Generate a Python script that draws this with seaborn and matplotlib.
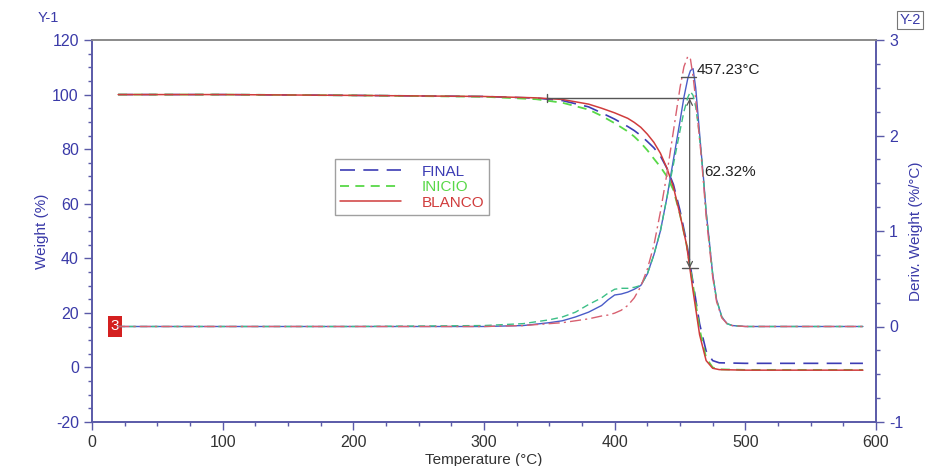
import numpy as np
import pandas as pd
import matplotlib
matplotlib.use("Agg")
import matplotlib.pyplot as plt
from matplotlib.ticker import MultipleLocator
import seaborn as sns

sns.set_theme(style="white")
plt.rcParams['font.family'] = ['Liberation Sans', 'DejaVu Sans']
plt.rcParams['axes.unicode_minus'] = False

# ---------------- data ----------------
series = ["FINAL", "INICIO", "BLANCO"]

temp_w = [20, 100, 200, 300, 340, 360, 380, 390, 400, 410, 415, 420, 425, 430,
          435, 440, 445, 450, 455, 460, 465, 470, 475, 480, 500, 550, 590]
weight_final = [100, 100, 99.7, 99.3, 98.7, 97.8, 95.5, 93.3, 91.0, 88.3, 86.8, 85.0,
                82.8, 80.5, 77.5, 73.0, 67.0, 57.5, 46.0, 31.0, 16.0, 6.0, 2.5, 1.7,
                1.5, 1.5, 1.5]
weight_inicio = [100, 100, 99.7, 99.2, 98.3, 97.0, 94.5, 92.2, 89.5, 86.5, 84.6, 82.3,
                 79.6, 76.5, 73.5, 70.0, 65.0, 56.0, 45.0, 30.0, 14.0, 3.5, 0.0, -0.7,
                 -0.9, -0.9, -0.9]
weight_blanco = [100, 100, 99.7, 99.3, 98.8, 98.2, 96.5, 95.0, 93.3, 91.3, 89.8, 88.0,
                 85.5, 82.5, 78.5, 73.0, 66.0, 56.0, 45.0, 28.0, 12.0, 2.5, -0.3, -0.8,
                 -1.0, -1.0, -1.0]

temp_d = [20, 100, 200, 300, 330, 350, 360, 370, 380, 390, 395, 400, 405, 410, 415,
          420, 425, 430, 435, 440, 445, 450, 453, 456, 458, 460, 462, 464, 466, 468,
          470, 472, 475, 478, 482, 486, 490, 500, 550, 590]
deriv_final = [0, 0, 0, 0.0, 0.01, 0.04, 0.06, 0.10, 0.15, 0.22, 0.28, 0.33, 0.34, 0.36,
               0.39, 0.43, 0.55, 0.75, 1.00, 1.35, 1.75, 2.15, 2.40, 2.60, 2.68, 2.70,
               2.50, 2.18, 1.86, 1.55, 1.20, 0.95, 0.55, 0.28, 0.10, 0.03, 0.01, 0, 0, 0]
deriv_inicio = [0, 0, 0, 0.01, 0.03, 0.07, 0.10, 0.15, 0.23, 0.30, 0.35, 0.39, 0.40, 0.40,
                0.41, 0.43, 0.55, 0.75, 1.00, 1.35, 1.70, 2.05, 2.25, 2.40, 2.46, 2.42,
                2.30, 2.10, 1.84, 1.54, 1.20, 0.95, 0.55, 0.28, 0.10, 0.03, 0.01, 0, 0, 0]
deriv_blanco = [0, 0, 0, 0.0, 0.01, 0.03, 0.04, 0.06, 0.08, 0.11, 0.12, 0.14, 0.17, 0.22,
                0.30, 0.42, 0.60, 0.85, 1.20, 1.60, 2.05, 2.50, 2.72, 2.83, 2.80, 2.62,
                2.38, 2.10, 1.82, 1.50, 1.15, 0.90, 0.52, 0.26, 0.09, 0.03, 0.01, 0, 0, 0]

xticks = [0, 100, 200, 300, 400, 500, 600]
y1ticks = [-20, 0, 20, 40, 60, 80, 100, 120]
y2ticks = [-1, 0, 1, 2, 3]

# ---------------- styling ----------------
c_final = "#3c3cb4"
c_inicio = "#58d848"
c_blanco = "#d03c3c"
c_final_d = "#4a5cc8"
c_inicio_d = "#3cbf86"
c_blanco_d = "#d86070"
axis_blue = "#5a5aa8"
label_blue = "#3a3aa8"

fig = plt.figure(figsize=(9.42, 4.66), dpi=100)
ax = fig.add_axes([92/942, 1-422/466, 784/942, 382/466])
ax2 = ax.twinx()

wdf = pd.DataFrame({"T": temp_w, "FINAL": weight_final, "INICIO": weight_inicio,
                    "BLANCO": weight_blanco})
ddf = pd.DataFrame({"T": temp_d, "FINAL": deriv_final, "INICIO": deriv_inicio,
                    "BLANCO": deriv_blanco})

# weight curves (left axis)
sns.lineplot(data=wdf, x="T", y="FINAL", ax=ax, color=c_final, lw=1.2,
             linestyle=(0, (9, 5)), sort=False, estimator=None, label="FINAL")
sns.lineplot(data=wdf, x="T", y="INICIO", ax=ax, color=c_inicio, lw=1.3,
             linestyle=(0, (5, 3.5)), sort=False, estimator=None, label="INICIO")
sns.lineplot(data=wdf, x="T", y="BLANCO", ax=ax, color=c_blanco, lw=1.1,
             linestyle="-", sort=False, estimator=None, label="BLANCO")

# derivative curves (right axis)
sns.lineplot(data=ddf, x="T", y="FINAL", ax=ax2, color=c_final_d, lw=1.0,
             linestyle="-", sort=False, estimator=None, legend=False)
sns.lineplot(data=ddf, x="T", y="INICIO", ax=ax2, color=c_inicio_d, lw=1.0,
             linestyle=(0, (5, 3)), sort=False, estimator=None, legend=False)
sns.lineplot(data=ddf, x="T", y="BLANCO", ax=ax2, color=c_blanco_d, lw=1.0,
             linestyle=(0, (8, 3, 1.5, 3)), sort=False, estimator=None, legend=False)

# axes limits / ticks
ax.set_xlim(0, 600)
ax.set_ylim(-20, 120)
ax2.set_ylim(-1, 3)
ax.set_xticks(xticks)
ax.set_yticks(y1ticks)
ax2.set_yticks(y2ticks)
ax.xaxis.set_minor_locator(MultipleLocator(25))
ax.yaxis.set_minor_locator(MultipleLocator(5))
ax2.yaxis.set_minor_locator(MultipleLocator(0.25))

ax.tick_params(axis="x", which="major", direction="out", length=6, width=1,
               color=axis_blue, labelsize=11.5, labelcolor="#333333", bottom=True)
ax.tick_params(axis="x", which="minor", direction="out", length=3, width=1,
               color=axis_blue, bottom=True)
ax.tick_params(axis="y", which="major", direction="out", length=6, width=1,
               color=axis_blue, labelsize=11.5, labelcolor=label_blue, left=True)
ax.tick_params(axis="y", which="minor", direction="out", length=3, width=1,
               color=axis_blue, left=True)
ax2.tick_params(axis="y", which="major", direction="out", length=6, width=1,
                color=axis_blue, labelsize=11.5, labelcolor=label_blue, right=True)
ax2.tick_params(axis="y", which="minor", direction="out", length=3, width=1,
                color=axis_blue, right=True)

for a in (ax, ax2):
    for s in a.spines.values():
        s.set_linewidth(1.2)
    a.spines["left"].set_color(axis_blue)
    a.spines["right"].set_color(axis_blue)
    a.spines["bottom"].set_color(axis_blue)
    a.spines["top"].set_color("#8a8a8a")
    a.grid(False)

ax.set_xlabel("Temperature (°C)", fontsize=11, color="#333333", labelpad=2)
ax.set_ylabel("Weight (%)", fontsize=11, color=label_blue, labelpad=2)
ax2.set_ylabel("Deriv. Weight (%/°C)", fontsize=11, color=label_blue, labelpad=4)

fig.text(48/942, 1-18/466, "Y-1", fontsize=10.5, color=label_blue, ha="center", va="center")
fig.text(910/942, 1-20/466, "Y-2", fontsize=10.5, color=label_blue, ha="center", va="center",
         bbox=dict(facecolor="white", edgecolor="#777777", pad=1.5, lw=0.8))

# legend
leg = ax.legend(loc="upper left", bbox_to_anchor=(0.31, 0.688), frameon=True,
                fancybox=False, edgecolor="#888888", fontsize=11, handlelength=4.0,
                handletextpad=1.3, borderpad=0.35, labelspacing=0.1, borderaxespad=0)
leg.get_frame().set_linewidth(1.0)
for txt, col in zip(leg.get_texts(), [c_final, c_inicio, c_blanco]):
    txt.set_color(col)

# annotations
ann_col = "#555555"
ax.plot([348, 460], [98.6, 98.6], color=ann_col, lw=1.0)
ax.plot([348, 348], [97.2, 100.2], color=ann_col, lw=1.0)
ax.annotate("", xy=(457.4, 36.3), xytext=(457.4, 98.6),
            arrowprops=dict(arrowstyle="<->", color=ann_col, lw=0.9,
                            shrinkA=0, shrinkB=0, mutation_scale=10))
ax.plot([451.5, 463.5], [36.3, 36.3], color=ann_col, lw=1.0)
ax.text(468.5, 71.6, "62.32%", fontsize=11, color="#222222", ha="left", va="center")
ax2.plot([450.7, 462.2], [2.61, 2.61], color=ann_col, lw=1.0)
ax2.text(463, 2.69, "457.23°C", fontsize=11, color="#222222", ha="left", va="center")

ax.text(17.6, 15, "3", fontsize=11, color="white", ha="center", va="center",
        bbox=dict(facecolor="#d42020", edgecolor="none", pad=2.2))

fig.savefig("out.png", dpi=100, facecolor="white")
